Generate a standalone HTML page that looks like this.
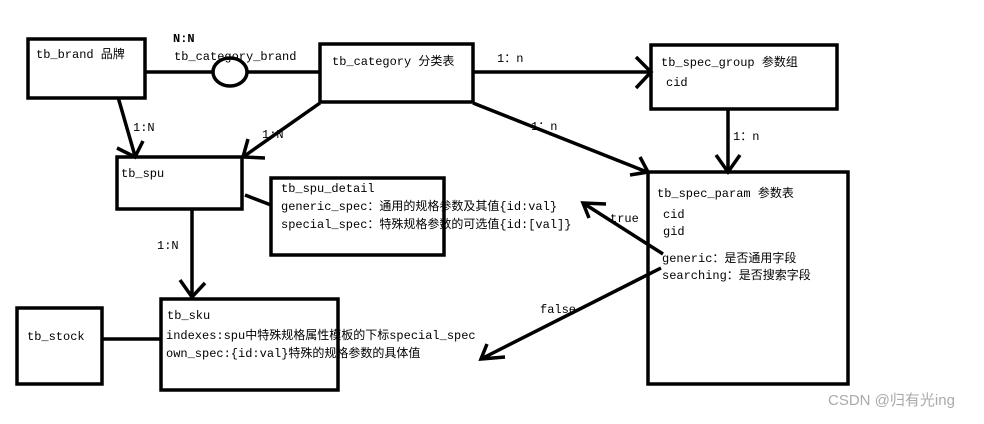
<!DOCTYPE html>
<html><head><meta charset="utf-8"><style>
body{margin:0;background:#fff;}
svg text{font-family:"Liberation Mono","Noto Sans CJK SC",monospace;font-size:12px;fill:#000;}
</style></head><body>
<svg width="984" height="419" viewBox="0 0 984 419" xmlns="http://www.w3.org/2000/svg">
<g fill="none" stroke="#000" stroke-width="3.5">
<rect x="28" y="39" width="117" height="59"/>
<rect x="320" y="44" width="153" height="58"/>
<rect x="117" y="157" width="125" height="52"/>
<rect x="271" y="178" width="173" height="77"/>
<rect x="651" y="45" width="186" height="64"/>
<rect x="648" y="172" width="200" height="212"/>
<rect x="17" y="308" width="85" height="76"/>
<rect x="161" y="299" width="177" height="91"/>
<line x1="145" y1="72" x2="213" y2="72"/>
<ellipse cx="230" cy="72" rx="17" ry="14"/>
<line x1="247" y1="72" x2="320" y2="72"/>
<line x1="473" y1="72" x2="650" y2="72"/>
<polyline points="636,57 651,72 636,88"/>
<line x1="473" y1="103" x2="647" y2="172"/>
<polyline points="640,157 648,172 630,175"/>
<line x1="728" y1="109" x2="728" y2="172"/>
<polyline points="716,155 728,172 740,155"/>
<line x1="118" y1="97" x2="135" y2="156"/>
<polyline points="117,148 135,157 143,141"/>
<line x1="320" y1="103" x2="243" y2="157"/>
<polyline points="248,139 243,157 265,158"/>
<line x1="245" y1="195" x2="271" y2="205"/>
<line x1="192" y1="209" x2="192" y2="297"/>
<polyline points="180,280 192,297 205,283"/>
<line x1="102" y1="339" x2="161" y2="339"/>
<line x1="663" y1="254" x2="583" y2="203"/>
<polyline points="606,204 583,203 589,218"/>
<line x1="661" y1="268" x2="481" y2="359"/>
<polyline points="487,344 481,359 505,357"/>
</g>
<text x="36" y="58">tb_brand 品牌</text>
<text x="173" y="42" font-weight="bold">N:N</text>
<text x="174" y="60">tb_category_brand</text>
<text x="332" y="65">tb_category 分类表</text>
<text x="497" y="62">1：n</text>
<text x="661" y="66">tb_spec_group 参数组</text>
<text x="666" y="86">cid</text>
<text x="531" y="130">1：n</text>
<text x="733" y="140">1：n</text>
<text x="133" y="131">1:N</text>
<text x="262" y="138">1:N</text>
<text x="121" y="177">tb_spu</text>
<text x="281" y="192">tb_spu_detail</text>
<text x="281" y="210">generic_spec：通用的规格参数及其值{id:val}</text>
<text x="281" y="228">special_spec：特殊规格参数的可选值{id:[val]}</text>
<text x="610" y="222">true</text>
<text x="657" y="197">tb_spec_param 参数表</text>
<text x="663" y="218">cid</text>
<text x="663" y="235">gid</text>
<text x="662" y="262">generic：是否通用字段</text>
<text x="662" y="279">searching：是否搜索字段</text>
<text x="157" y="249">1:N</text>
<text x="540" y="313">false</text>
<text x="27" y="340">tb_stock</text>
<text x="167" y="319">tb_sku</text>
<text x="166" y="339">indexes:spu中特殊规格属性模板的下标special_spec</text>
<text x="166" y="357">own_spec:{id:val}特殊的规格参数的具体值</text>
<text x="828" y="405" style="font-family:'Liberation Sans','Noto Sans CJK SC',sans-serif;font-size:15px;fill:#aaa">CSDN @归有光ing</text>
</svg>
</body></html>
